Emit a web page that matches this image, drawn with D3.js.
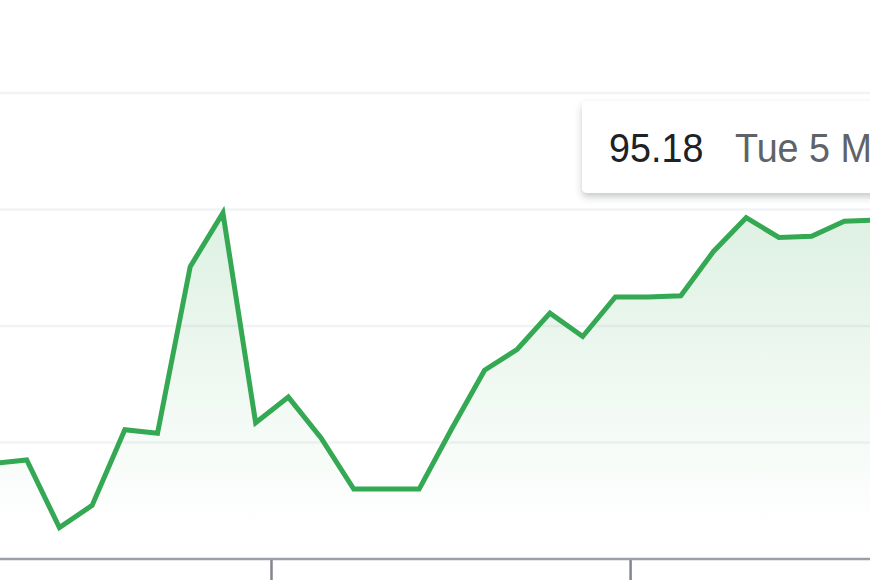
<!DOCTYPE html>
<html>
<head>
<meta charset="utf-8">
<script src="https://cdn.jsdelivr.net/npm/d3@7"></script>
<style>
  html, body { margin: 0; padding: 0; background: #fff; }
  svg { display: block; }
</style>
</head>
<body>
<svg id="chart" width="870" height="580"></svg>
<script>
// ---- data ----
const pointIndex = d3.range(28);
const prices = [92.82, 92.85, 92.27, 92.46, 93.11, 93.08, 94.51, 94.97, 93.17, 93.39,
                93.04, 92.60, 92.60, 92.60, 93.12, 93.62, 93.80, 94.11, 93.91, 94.25,
                94.25, 94.26, 94.64, 94.93, 94.76, 94.77, 94.90, 94.91];
const gridValues = [93, 94, 95, 96];
const axisTickIndex = [8.47, 19.45];
const tooltipPrice = "95.18";
const tooltipDate = "Tue 5 Mar";

// ---- layout ----
const W = 870, H = 580;
const svg = d3.select("#chart");
const x = d3.scaleLinear().domain([0, 27]).range([-6, 877]);
const y = d3.scaleLinear().domain([92, 96]).range([559, 93]);
const data = pointIndex.map((i) => ({ i, v: prices[i] }));

const defs = svg.append("defs");
const grad = defs.append("linearGradient")
  .attr("id", "areaGrad").attr("gradientUnits", "userSpaceOnUse")
  .attr("x1", 0).attr("x2", 0).attr("y1", 205).attr("y2", 530);
grad.append("stop").attr("offset", "0%").attr("stop-color", "#34a853").attr("stop-opacity", 0.17);
grad.append("stop").attr("offset", "100%").attr("stop-color", "#34a853").attr("stop-opacity", 0.0);

const shadow = defs.append("filter").attr("id", "shadow")
  .attr("x", "-20%").attr("y", "-30%").attr("width", "140%").attr("height", "180%");
shadow.append("feDropShadow").attr("dx", 0).attr("dy", 4).attr("stdDeviation", 3.5)
  .attr("flood-color", "#3c4043").attr("flood-opacity", 0.28);

// gridlines
svg.append("g").selectAll("line").data(gridValues).join("line")
  .attr("x1", 0).attr("x2", W)
  .attr("y1", d => y(d)).attr("y2", d => y(d))
  .attr("stroke", "#f1f3f4").attr("stroke-width", 2.5);

// area
const area = d3.area().x(d => x(d.i)).y0(y(92)).y1(d => y(d.v));
svg.append("path").datum(data).attr("d", area).attr("fill", "url(#areaGrad)");

// line
const line = d3.line().x(d => x(d.i)).y(d => y(d.v));
svg.append("path").datum(data).attr("d", line)
  .attr("fill", "none").attr("stroke", "#34a853").attr("stroke-width", 5)
  .attr("stroke-linejoin", "miter").attr("stroke-linecap", "butt");

// x axis
const axis = d3.axisBottom(x).tickValues(axisTickIndex).tickSize(22).tickFormat("");
const ag = svg.append("g").attr("transform", `translate(0,${y(92)})`).call(axis);
ag.select(".domain").remove();
ag.selectAll(".tick line").attr("stroke", "#80868b").attr("stroke-width", 2.5);
svg.append("line").attr("x1", 0).attr("x2", W).attr("y1", y(92)).attr("y2", y(92))
  .attr("stroke", "#9aa0a6").attr("stroke-width", 2.5);

// tooltip
const tip = svg.append("g");
tip.append("rect").attr("x", 582).attr("y", 101).attr("width", 330).attr("height", 92)
  .attr("rx", 5).attr("fill", "#fff").attr("filter", "url(#shadow)");
tip.append("text").text(tooltipPrice)
  .attr("transform", "translate(609,162) scale(0.92,1)")
  .attr("font-family", "'Liberation Sans', Arial, sans-serif")
  .attr("font-size", 41).attr("fill", "#202124");
tip.append("text").text(tooltipDate)
  .attr("transform", "translate(735,162) scale(0.92,1)")
  .attr("font-family", "'Liberation Sans', Arial, sans-serif")
  .attr("font-size", 41).attr("fill", "#5f6368");
</script>
</body>
</html>
